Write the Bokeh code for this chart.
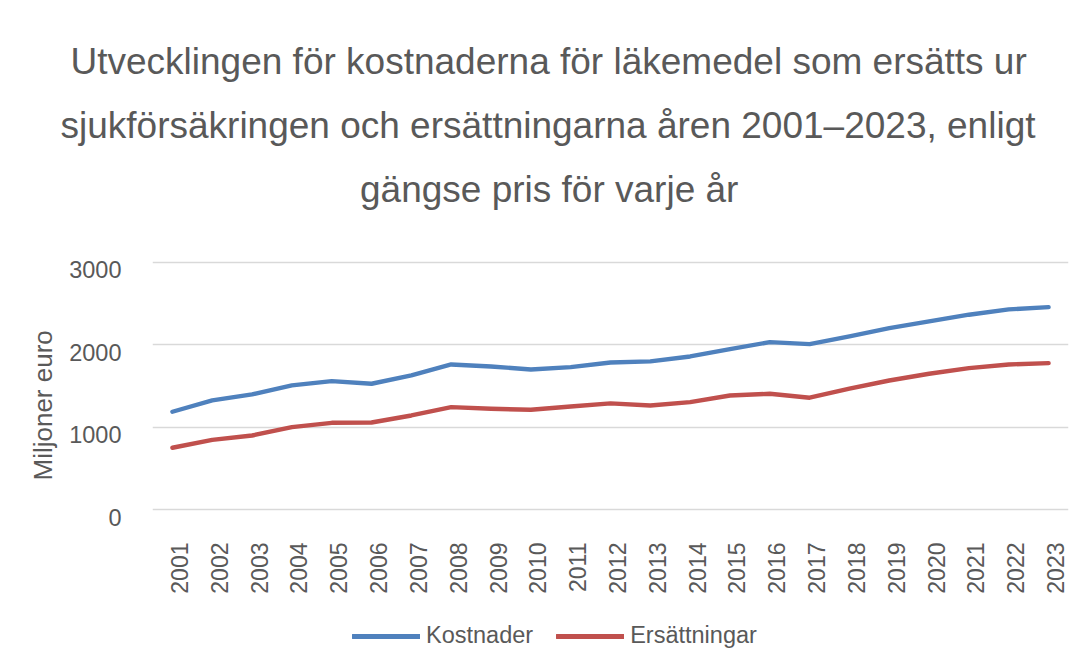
import math
from bokeh.plotting import figure
from bokeh.layouts import column
from bokeh.models import (Range1d, LinearAxis, FixedTicker, Grid, Title,
                          Legend, LegendItem)
from bokeh.embed import file_html
from bokeh.resources import INLINE

years = [2001, 2002, 2003, 2004, 2005, 2006, 2007, 2008, 2009, 2010, 2011, 2012,
         2013, 2014, 2015, 2016, 2017, 2018, 2019, 2020, 2021, 2022, 2023]
kostnader = [1188, 1325, 1398, 1507, 1559, 1527, 1628, 1761, 1737, 1700, 1729, 1785,
             1798, 1858, 1947, 2032, 2007, 2101, 2202, 2283, 2364, 2428, 2456]
ersattningar = [752, 848, 900, 1001, 1054, 1058, 1143, 1244, 1224, 1212, 1252, 1290,
                1264, 1304, 1385, 1406, 1358, 1467, 1567, 1648, 1716, 1761, 1777]
yticks = [0, 1000, 2000, 3000]
series_names = ["Kostnader", "Ersättningar"]
title_lines = ["Utvecklingen för kostnaderna för läkemedel som ersätts ur",
               "sjukförsäkringen och ersättningarna åren 2001–2023, enligt",
               "gängse pris för varje år"]
y_title = "Miljoner euro"

FONT = "Liberation Sans"
TXT = "#595959"
BLUE = "#4f81bd"
RED = "#c0504d"
GRID = "#d9d9d9"
LW = 4.4

x0, x1 = 2000.5, 2023.5
y0, y1 = -129.6, 3069.1
xoff = 0.176
yoff = 93

p = figure(width=1073, height=615, output_backend="svg", toolbar_location=None,
           x_range=Range1d(x0, x1), y_range=Range1d(y0, y1),
           x_axis_location=None, y_axis_location=None,
           min_border_left=152, min_border_right=5, min_border_top=256,
           min_border_bottom=95)
p.outline_line_color = None
p.background_fill_color = "white"
p.border_fill_color = "white"
p.grid.visible = False

p.extra_x_ranges = {"xlab": Range1d(x0 - xoff, x1 - xoff)}
p.extra_y_ranges = {"ylab": Range1d(y0 + yoff, y1 + yoff)}

p.add_layout(Grid(dimension=1, ticker=FixedTicker(ticks=yticks),
                  grid_line_color=GRID, grid_line_width=1.4))

r1 = p.line(years, kostnader, line_color=BLUE, line_width=LW,
            line_cap="round", line_join="round")
r2 = p.line(years, ersattningar, line_color=RED, line_width=LW,
            line_cap="round", line_join="round")

yax = LinearAxis(y_range_name="ylab", ticker=FixedTicker(ticks=yticks))
yax.axis_line_color = None
yax.major_tick_line_color = None
yax.minor_tick_line_color = None
yax.major_tick_out = 0
yax.major_tick_in = 0
yax.major_label_standoff = 31
yax.major_label_text_font = FONT
yax.major_label_text_font_size = "23.5px"
yax.major_label_text_color = TXT
p.add_layout(yax, "left")

p.add_layout(Title(text=y_title, align="left", offset=40, standoff=17,
                   text_font=FONT, text_font_size="26px", text_color=TXT,
                   text_font_style="normal"), "left")

xax = LinearAxis(x_range_name="xlab", ticker=FixedTicker(ticks=years))
xax.axis_line_color = None
xax.major_tick_line_color = None
xax.minor_tick_line_color = None
xax.major_tick_out = 0
xax.major_tick_in = 0
xax.major_label_standoff = 22
xax.major_label_orientation = math.pi / 2
xax.major_label_text_font = FONT
xax.major_label_text_font_size = "23px"
xax.major_label_text_color = TXT
p.add_layout(xax, "below")

# title: spacer nearest the frame, then line 3, line 2; line 1 is the outermost
p.add_layout(Title(text=" ", text_font_size="1px", standoff=33), "above")
title_offsets = [-82, -92, 207.5]
for i in [2, 1]:
    p.add_layout(Title(text=title_lines[i], align="left", offset=title_offsets[i],
                       standoff=21.2, text_font=FONT, text_font_size="37px",
                       text_color=TXT, text_font_style="normal"), "above")
p.title = Title(text=title_lines[0], align="left", offset=title_offsets[0],
                standoff=21.2, text_font=FONT, text_font_size="37px",
                text_color=TXT, text_font_style="normal")

# footer holding the legend (its lines use the real series, outside its view)
f = figure(width=1073, height=38, output_backend="svg", toolbar_location=None,
           x_range=Range1d(0, 1), y_range=Range1d(0, 1),
           x_axis_location=None, y_axis_location=None,
           min_border_left=0, min_border_right=0, min_border_top=0, min_border_bottom=0)
f.outline_line_color = None
f.grid.visible = False
f.border_fill_color = "white"
f.background_fill_color = "white"
k1 = f.line(years, kostnader, line_color=BLUE, line_width=LW + 0.4, line_cap="round")
k2 = f.line(years, ersattningar, line_color=RED, line_width=LW + 0.4, line_cap="round")
legend = Legend(items=[LegendItem(label=series_names[0], renderers=[k1]),
                       LegendItem(label=series_names[1], renderers=[k2])],
                orientation="horizontal", location=(200, 4),
                glyph_width=68, glyph_height=20, label_standoff=6, spacing=23,
                padding=0, margin=0, border_line_color=None,
                background_fill_alpha=0,
                label_text_font=FONT, label_text_font_size="23.5px",
                label_text_color=TXT)
f.add_layout(legend, "center")

layout = column(p, f, spacing=0)
open("out.html", "w").write(file_html(layout, INLINE))
